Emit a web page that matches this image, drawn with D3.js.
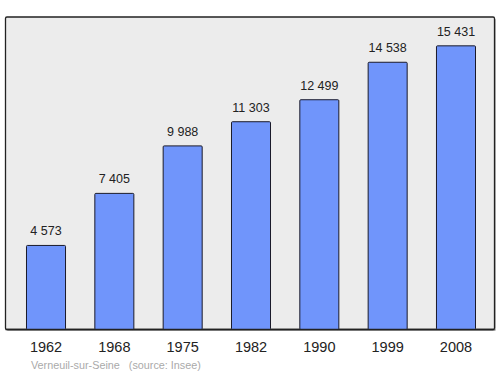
<!DOCTYPE html>
<html><head><meta charset="utf-8">
<script src="https://cdn.jsdelivr.net/npm/d3@7"></script>
<style>body{margin:0;background:#fff}svg{display:block}</style>
</head><body>
<svg id="c" width="500" height="374"></svg>
<script>
const years = ["1962","1968","1975","1982","1990","1999","2008"];
const population = [4573, 7405, 9988, 11303, 12499, 14538, 15431];
const valueLabels = ["4 573","7 405","9 988","11 303","12 499","14 538","15 431"];
const caption = "Verneuil-sur-Seine   (source: Insee)";

const svg = d3.select("#c");
const box = {x0: 5.5, x1: 494.5, y0: 17, y1: 329.5};

svg.append("rect").attr("x", box.x0 + 1.5).attr("y", box.y0 + 1.5)
  .attr("width", box.x1 - box.x0).attr("height", box.y1 - box.y0)
  .attr("fill", "#bbb").attr("rx", 1.5);
svg.append("rect").attr("x", box.x0).attr("y", box.y0)
  .attr("width", box.x1 - box.x0).attr("height", box.y1 - box.y0)
  .attr("fill", "#ececec").attr("stroke", "#222").attr("stroke-width", 1.3).attr("rx", 1.5);

const x = d3.scaleBand().domain(years).range([6, 496]).paddingInner(0.429).paddingOuter(0.3);
const y = d3.scaleLinear().domain([0, 17000]).range([box.y1, box.y0]);

const g = svg.append("g");
g.selectAll("rect.bar").data(population).join("rect")
  .attr("class", "bar")
  .attr("x", (d, i) => x(years[i]))
  .attr("y", d => y(d))
  .attr("width", x.bandwidth())
  .attr("height", d => y(0) - y(d))
  .attr("fill", "#7095fb").attr("stroke", "#1a1a2a").attr("stroke-width", 1).attr("rx", 1);

g.selectAll("text.val").data(population).join("text")
  .attr("class", "val")
  .attr("x", (d, i) => x(years[i]) + x.bandwidth() / 2)
  .attr("y", d => y(d) - 10)
  .attr("text-anchor", "middle")
  .attr("font-family", "Liberation Sans, Arial, sans-serif")
  .attr("font-size", 12.5).attr("fill", "#222")
  .text((d, i) => valueLabels[i]);

svg.append("line").attr("x1", box.x0).attr("x2", box.x1).attr("y1", box.y1).attr("y2", box.y1)
  .attr("stroke", "#222").attr("stroke-width", 1.5);

const axis = d3.axisBottom(x).tickSize(0).tickPadding(0);
const ax = svg.append("g").attr("transform", `translate(0,${box.y1})`).call(axis);
ax.select(".domain").remove();
ax.selectAll("text").attr("dy", null).attr("y", 22.5)
  .attr("font-family", "Liberation Sans, Arial, sans-serif")
  .attr("font-size", 14.5).attr("fill", "#222");

svg.append("text").attr("x", 31).attr("y", 368.5)
  .attr("font-family", "Liberation Sans, Arial, sans-serif")
  .attr("font-size", 10.8).attr("fill", "#aaa")
  .attr("xml:space", "preserve").style("white-space", "pre")
  .text(caption);
</script>
</body></html>
